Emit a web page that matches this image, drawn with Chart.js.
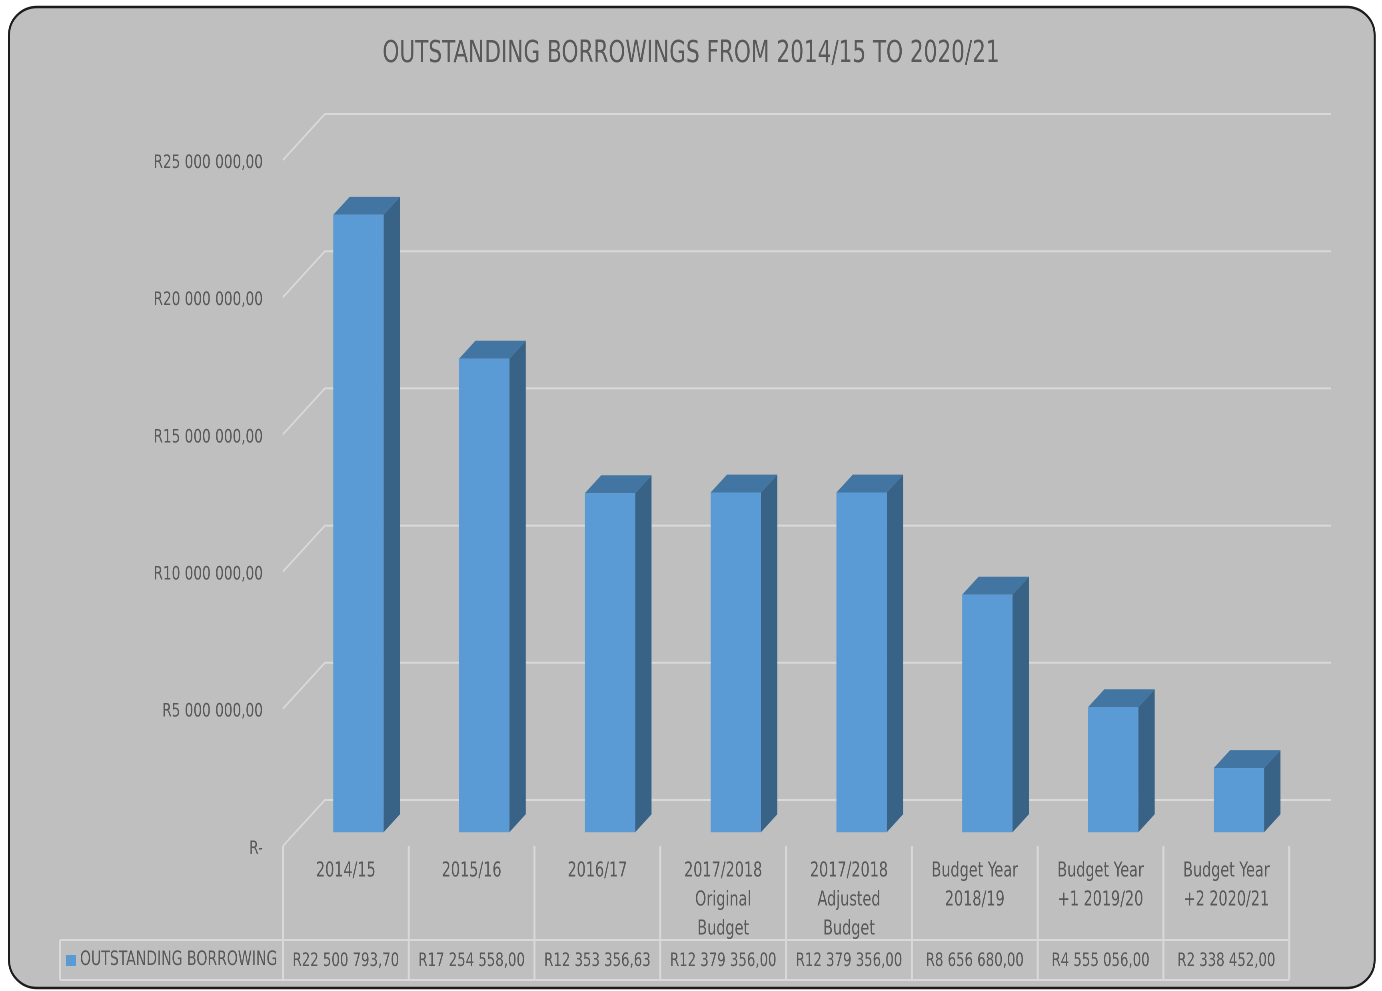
<!DOCTYPE html>
<html>
<head>
<meta charset="utf-8">
<title>Outstanding Borrowings</title>
<script src="https://cdn.jsdelivr.net/npm/chart.js@4.4.1/dist/chart.umd.min.js"></script>
<style>
    html, body {
        margin: 0;
        padding: 0;
        background: #ffffff;
        overflow: hidden;
    }
    /* the chart is drawn 25% wider and squeezed back, which gives the narrow lettering */
    #wrap {
        position: relative;
        width: 1728px;
        height: 991px;
        transform: scaleX(0.79977);
        transform-origin: 0 0;
    }
</style>
</head>
<body>
<div id="wrap">
    <canvas id="borrowChart"></canvas>
</div>
<script>
const categories = [
    ["2014/15"],
    ["2015/16"],
    ["2016/17"],
    ["2017/2018", "Original", "Budget"],
    ["2017/2018", "Adjusted", "Budget"],
    ["Budget Year", "2018/19"],
    ["Budget Year", "+1 2019/20"],
    ["Budget Year", "+2 2020/21"]
];
const borrowings = [22500793.70, 17254558.00, 12353356.63, 12379356.00, 12379356.00, 8656680.00, 4555056.00, 2338452.00];
const seriesName = "OUTSTANDING BORROWING";
const yMin = 0;
const yMax = 25000000;
const yStep = 5000000;

const FONT = "'DejaVu Sans Condensed', 'DejaVu Sans', sans-serif";
const TEXT = "#595959";
const GRID = "#d9d9d9";
const SX = 1.25; // horizontal stretch of the drawing space

// depth of the fake 3d box
const WALL_DX = 42 * SX;
const WALL_DY = -46;
const BAR_FRONT = 0.3;
const BAR_DEPTH = 0.39;

function formatRand(v) {
    if (v === 0) return "R-";
    const parts = v.toFixed(2).split(".");
    const whole = parts[0].replace(/\B(?=(\d{3})+(?!\d))/g, " ");
    return "R" + whole + "," + parts[1];
}

const box3d = {
    id: "box3d",
    beforeDraw(chart) {
        const ctx = chart.ctx;
        ctx.save();
        ctx.fillStyle = "#ffffff";
        ctx.fillRect(0, 0, chart.width, chart.height);
        ctx.beginPath();
        ctx.roundRect(9 * SX, 7, 1366 * SX, 981, { x: 28 * SX, y: 28 });
        ctx.fillStyle = "#bfbfbf";
        ctx.fill();
        ctx.lineWidth = 2.5;
        ctx.strokeStyle = "#1c1c1c";
        ctx.stroke();
        ctx.restore();
    },
    beforeDatasetsDraw(chart) {
        const ctx = chart.ctx;
        const area = chart.chartArea;
        const y = chart.scales.y;

        // back wall grid + side diagonals
        ctx.save();
        ctx.strokeStyle = GRID;
        ctx.lineWidth = 2;
        y.ticks.forEach(t => {
            const py = y.getPixelForValue(t.value);
            ctx.beginPath();
            ctx.moveTo(area.left, py);
            ctx.lineTo(area.left + WALL_DX, py + WALL_DY);
            ctx.lineTo(area.right + WALL_DX, py + WALL_DY);
            ctx.stroke();
        });
        ctx.restore();

        // bars as boxes
        const meta = chart.getDatasetMeta(0);
        ctx.save();
        meta.data.forEach(bar => {
            const w = bar.width;
            const fx = bar.x - w / 2 + WALL_DX * BAR_FRONT;
            const top = bar.y + WALL_DY * BAR_FRONT;
            const bottom = bar.base + WALL_DY * BAR_FRONT;
            const dx = WALL_DX * BAR_DEPTH;
            const dy = WALL_DY * BAR_DEPTH;

            // side
            ctx.fillStyle = "#386387";
            ctx.beginPath();
            ctx.moveTo(fx + w, top);
            ctx.lineTo(fx + w + dx, top + dy);
            ctx.lineTo(fx + w + dx, bottom + dy);
            ctx.lineTo(fx + w, bottom);
            ctx.closePath();
            ctx.fill();

            // top
            ctx.fillStyle = "#4275a2";
            ctx.beginPath();
            ctx.moveTo(fx, top);
            ctx.lineTo(fx + dx, top + dy);
            ctx.lineTo(fx + w + dx, top + dy);
            ctx.lineTo(fx + w, top);
            ctx.closePath();
            ctx.fill();

            // front
            ctx.fillStyle = "#5b9bd5";
            ctx.fillRect(fx, top, w, bottom - top);
        });
        ctx.restore();
        return false;
    },
    afterDraw(chart) {
        const ctx = chart.ctx;
        const area = chart.chartArea;
        const x = chart.scales.x;
        const n = borrowings.length;
        const cw = (area.right - area.left) / n;
        const rowTop = 940;
        const rowBottom = 980;
        const cellLeft = 60 * SX;

        ctx.save();
        ctx.strokeStyle = GRID;
        ctx.lineWidth = 2.5;
        for (let i = 0; i <= n; i++) {
            const px = area.left + i * cw;
            ctx.beginPath();
            ctx.moveTo(px, area.bottom);
            ctx.lineTo(px, rowBottom);
            ctx.stroke();
        }
        ctx.beginPath();
        ctx.moveTo(cellLeft, rowTop);
        ctx.lineTo(cellLeft, rowBottom);
        ctx.stroke();
        ctx.lineWidth = 2;
        ctx.beginPath();
        ctx.moveTo(cellLeft, rowTop);
        ctx.lineTo(area.right, rowTop);
        ctx.moveTo(cellLeft, rowBottom);
        ctx.lineTo(area.right, rowBottom);
        ctx.stroke();

        // legend key + series name
        ctx.fillStyle = "#5b9bd5";
        ctx.fillRect(66 * SX, 955, 10 * SX, 11);
        ctx.fillStyle = TEXT;
        ctx.font = "19.5px " + FONT;
        ctx.textBaseline = "middle";
        ctx.textAlign = "left";
        ctx.fillText(seriesName, 80 * SX, 960);

        // values row
        ctx.font = "18.5px " + FONT;
        ctx.textAlign = "center";
        borrowings.forEach((v, i) => {
            ctx.fillText(formatRand(v), x.getPixelForValue(i), 961);
        });
        ctx.restore();
    }
};

const ctx = document.getElementById("borrowChart").getContext("2d");
const borrowChart = new Chart(ctx, {
    type: "bar",
    data: {
        labels: categories,
        datasets: [
            {
                label: seriesName,
                data: borrowings,
                backgroundColor: "#5b9bd5",
                categoryPercentage: 1,
                barPercentage: 0.4
            }
        ]
    },
    options: {
        responsive: true,
        maintainAspectRatio: false,
        animation: false,
        devicePixelRatio: 2,
        layout: {
            padding: { left: 116, right: 116, top: 0, bottom: 0 }
        },
        plugins: {
            legend: { display: false },
            tooltip: { enabled: false },
            title: {
                display: true,
                text: "OUTSTANDING BORROWINGS FROM 2014/15 TO 2020/21",
                color: TEXT,
                font: { family: FONT, size: 30, weight: "normal", lineHeight: 1.2 },
                padding: { top: 36, bottom: 88 }
            }
        },
        scales: {
            x: {
                grid: { display: false },
                border: { display: false },
                ticks: {
                    color: TEXT,
                    font: { family: FONT, size: 20, lineHeight: 1.45 },
                    padding: 3,
                    maxRotation: 0,
                    autoSkip: false
                },
                afterFit(scale) {
                    scale.height = 145;
                }
            },
            y: {
                min: yMin,
                max: yMax,
                grid: { display: false },
                border: { display: false },
                ticks: {
                    stepSize: yStep,
                    color: TEXT,
                    font: { family: FONT, size: 19 },
                    padding: 17,
                    labelOffset: 3,
                    callback: value => formatRand(value)
                },
                afterFit(scale) {
                    scale.width = 283 * SX - 116;
                }
            }
        }
    },
    plugins: [box3d]
});
</script>
</body>
</html>
